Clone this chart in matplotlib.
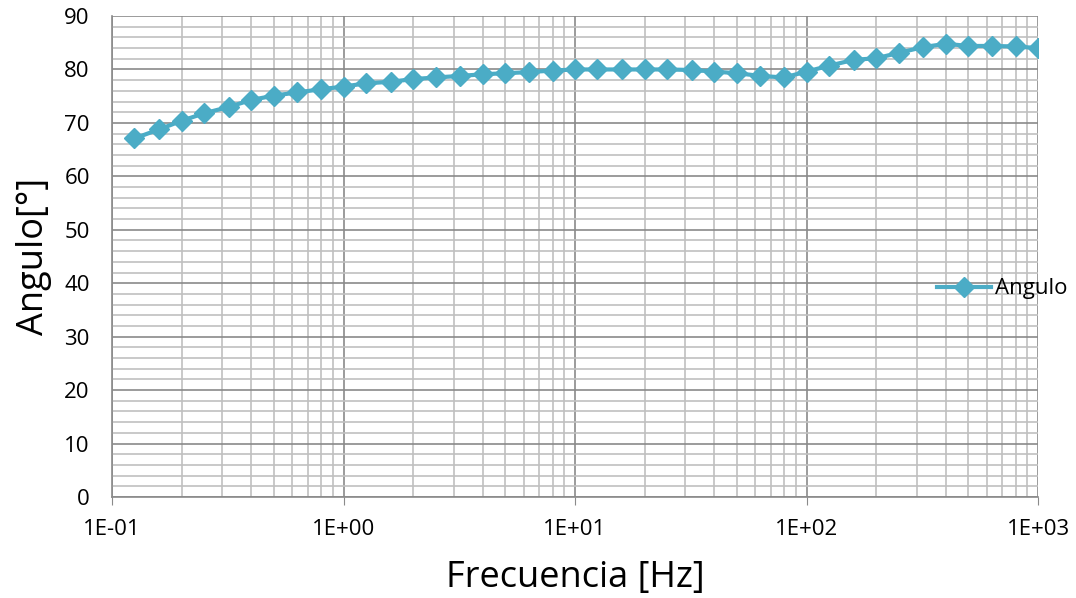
import matplotlib
matplotlib.use('Agg')
import matplotlib.pyplot as plt
from matplotlib.ticker import FixedLocator, FuncFormatter, MultipleLocator, NullFormatter

plt.rcParams['font.family'] = ['Open Sans', 'DejaVu Sans']

# Frequency points (Hz), 10 per decade
frecuencia = [0.125, 0.16, 0.2, 0.25, 0.32, 0.4, 0.5, 0.63, 0.8, 1.0,
              1.25, 1.6, 2.0, 2.5, 3.2, 4.0, 5.0, 6.3, 8.0, 10.0,
              12.5, 16, 20, 25, 32, 40, 50, 63, 80, 100,
              125, 160, 200, 250, 320, 400, 500, 630, 800, 1000]

# Phase angle (degrees)
angulo = [67.1, 68.8, 70.4, 71.8, 73.0, 74.3, 75.1, 75.7, 76.3, 76.8,
          77.4, 77.7, 78.2, 78.5, 78.8, 79.1, 79.3, 79.5, 79.8, 80.0,
          80.0, 80.0, 80.0, 80.0, 79.9, 79.6, 79.3, 78.8, 78.5, 79.6,
          80.7, 81.8, 82.1, 83.1, 84.2, 84.8, 84.4, 84.4, 84.3, 84.0]

x_ticks = [0.1, 1, 10, 100, 1000]
x_tick_labels = ['1E-01', '1E+00', '1E+01', '1E+02', '1E+03']

color = '#4BACC6'
major_grid = '#8A8A8A'
minor_grid = '#C0C0C0'

fig = plt.figure(figsize=(10.76, 5.98), dpi=100)
ax = fig.add_axes([0.1041, 0.1689, 0.8606, 0.8043])

ax.plot(frecuencia, angulo, color=color, linewidth=3, marker='D',
        markersize=10, label='Angulo', zorder=3)

ax.set_xscale('log')
ax.set_xlim(0.1, 1000)
ax.set_ylim(0, 90)

ax.xaxis.set_major_locator(FixedLocator(x_ticks))
ax.xaxis.set_major_formatter(FuncFormatter(lambda v, p: x_tick_labels[x_ticks.index(v)] if v in x_ticks else ''))
minor_x = [m * 10.0 ** e for e in range(-1, 3) for m in range(2, 10)]
ax.xaxis.set_minor_locator(FixedLocator(minor_x))
ax.xaxis.set_minor_formatter(NullFormatter())

ax.yaxis.set_major_locator(MultipleLocator(10))
ax.yaxis.set_minor_locator(MultipleLocator(2))

ax.grid(which='major', color=major_grid, linewidth=1.2, zorder=1)
ax.grid(which='minor', color=minor_grid, linewidth=1.2, zorder=1)
ax.set_axisbelow(True)

for side in ['top', 'right']:
    ax.spines[side].set_visible(False)
for side in ['left', 'bottom']:
    ax.spines[side].set_color(major_grid)
    ax.spines[side].set_linewidth(1.2)

ax.tick_params(which='minor', length=0)
ax.tick_params(axis='x', which='major', length=6, color=major_grid, labelsize=16, pad=10)
ax.tick_params(axis='y', which='major', length=0, labelsize=16, pad=16)

ax.set_xlabel('Frecuencia [Hz]', fontsize=26, labelpad=14)
ax.set_ylabel('Angulo[°]', fontsize=26, labelpad=9)

fig.legend(loc='center left', bbox_to_anchor=(0.863, 0.517), frameon=False,
           fontsize=16, handlelength=2.4, handletextpad=0.2, borderaxespad=0)

fig.savefig('out.png', dpi=100)
